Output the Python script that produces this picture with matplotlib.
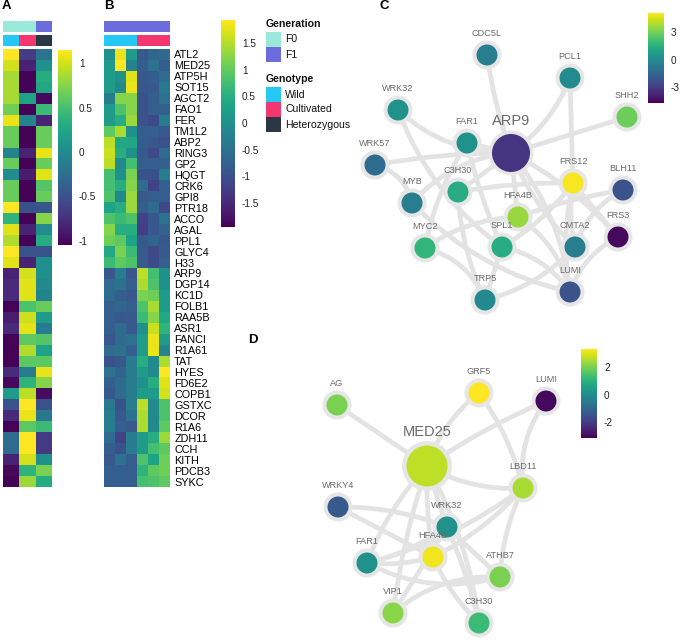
import matplotlib
matplotlib.use('Agg')
import matplotlib.pyplot as plt
import numpy as np
from matplotlib.patches import Circle, Rectangle, PathPatch
from matplotlib.path import Path
from matplotlib.colors import Normalize, to_rgb
from matplotlib.cm import ScalarMappable

plt.rcParams['font.family'] = ['Liberation Sans', 'DejaVu Sans']

# ---------------- data ----------------
genes_B = ['ATL2', 'MED25', 'ATP5H', 'SOT15', 'AGCT2', 'FAO1', 'FER', 'TM1L2', 'ABP2', 'RING3',
           'GP2', 'HQGT', 'CRK6', 'GPI8', 'PTR18', 'ACCO', 'AGAL', 'PPL1', 'GLYC4', 'H33',
           'ARP9', 'DGP14', 'KC1D', 'FOLB1', 'RAA5B', 'ASR1', 'FANCI', 'R1A61', 'TAT', 'HYES',
           'FD6E2', 'COPB1', 'GSTXC', 'DCOR', 'R1A6', 'ZDH11', 'CCH', 'KITH', 'PDCB3', 'SYKC']

generation_A = ['F0', 'F0', 'F1']
genotype_A = ['Wild', 'Cultivated', 'Heterozygous']
generation_B = ['F1', 'F1', 'F1', 'F1', 'F1', 'F1']
genotype_B = ['Wild', 'Wild', 'Wild', 'Cultivated', 'Cultivated', 'Cultivated']

heat_A = [
    [1.15, -0.65, -0.21], [1.00, -0.83, 0.05], [0.86, -1.03, 0.31], [0.86, -1.03, 0.27],
    [0.86, 0.23, -1.00], [0.67, -1.03, 0.45], [1.08, -0.06, -0.83], [0.64, -1.03, 0.64],
    [0.64, -1.03, 0.64], [-0.06, -0.83, 1.08], [0.64, -1.03, 0.64], [0.01, -0.87, 1.04],
    [0.64, -1.03, 0.56], [0.64, -1.03, 0.64], [1.15, -0.50, -0.46], [0.38, -1.03, 0.75],
    [1.04, -0.83, 0.01], [0.89, -1.03, 0.31], [1.15, -0.50, -0.50], [1.04, -0.83, 0.05],
    [-0.83, 1.00, 0.05], [-0.79, 1.04, 0.00], [-0.79, 1.04, -0.06], [-1.03, 0.53, 0.64],
    [-0.87, 0.98, 0.16], [-0.79, 1.06, -0.13], [-1.03, 0.60, 0.56], [-1.03, 0.89, 0.23],
    [-1.03, 0.60, 0.60], [-0.79, -0.13, 1.08], [-1.00, 0.38, 0.75], [0.16, 0.93, -0.98],
    [-0.50, 1.15, -0.50], [-0.79, 1.08, -0.17], [-1.03, 0.60, 0.45], [-0.28, 1.15, -0.68],
    [-0.28, 1.15, -0.68], [-0.83, 1.00, 0.05], [-1.00, 0.38, 0.71], [-1.03, 0.82, 0.31],
]

heat_B = [
    [0.00, 1.81, 0.18, -0.86, -0.67, -0.59],
    [0.18, 1.93, -0.20, -0.79, -0.48, -0.79],
    [0.18, 0.00, 1.74, -0.90, -0.79, -0.59],
    [0.18, -0.09, 1.81, -0.90, -0.86, -0.40],
    [-0.32, 1.23, 1.23, -0.98, -0.79, -0.48],
    [0.18, 0.84, 1.23, -0.98, -0.79, -0.79],
    [0.18, 0.46, 1.35, -0.98, -1.10, -0.32],
    [0.96, 1.43, 0.00, -0.79, -0.79, -0.90],
    [1.54, 0.38, 0.38, -0.79, -0.90, -0.98],
    [1.62, 0.46, 0.00, -0.86, -1.10, -0.59],
    [1.54, -0.09, 0.77, -0.79, -0.79, -0.79],
    [0.77, 0.00, 1.15, -0.98, -0.98, -0.32],
    [0.77, 0.46, 1.23, -0.59, -1.17, -0.79],
    [0.84, -0.09, 1.35, -0.86, -0.79, -0.79],
    [0.30, 0.46, 1.35, -0.79, -0.59, -1.10],
    [0.84, 0.69, 0.84, -1.17, -0.90, -0.48],
    [1.23, 0.46, 0.46, -1.25, -0.90, -0.71],
    [1.08, 0.96, 0.30, -0.86, -0.71, -0.90],
    [0.38, 1.15, 0.69, -0.86, -1.10, -0.86],
    [0.69, 0.96, 0.84, -0.86, -1.10, -0.79],
    [-0.90, -0.32, -0.90, 1.54, 0.77, 0.00],
    [-0.59, -0.48, -0.79, 1.46, 0.84, 0.00],
    [-0.59, -0.79, -0.90, 1.15, 1.08, 0.18],
    [-0.79, -0.67, -0.79, 0.84, 1.43, 0.18],
    [-0.79, -0.90, -0.86, 0.69, 1.23, 0.38],
    [-0.79, -0.59, -0.86, 0.00, 1.62, 0.57],
    [-0.90, -0.59, -0.48, 0.18, 1.81, 0.18],
    [-0.59, -0.48, -0.79, 0.18, 1.81, -0.20],
    [-0.98, -0.90, -0.32, 0.46, -0.09, 1.46],
    [-0.48, -0.71, -0.32, 0.18, -0.09, 1.93],
    [-0.79, -0.59, -0.32, 0.00, 0.46, 1.74],
    [-0.90, -0.59, -0.32, 0.18, 0.18, 1.66],
    [-0.40, -0.98, -0.32, 1.54, -0.09, 0.84],
    [-0.32, -0.90, -0.48, 1.46, -0.09, 0.84],
    [-0.32, -0.79, -0.86, 1.46, -0.09, 0.96],
    [-0.59, -1.17, -0.32, 0.18, 0.46, 1.35],
    [-0.79, -0.98, -0.32, 0.18, 0.77, 0.96],
    [-0.90, -0.48, -0.79, 0.84, 0.30, 1.08],
    [-0.79, -0.79, -0.79, 0.57, 0.96, 1.08],
    [-0.79, -0.79, -0.79, 0.77, 0.84, 0.96],
]

# network C
C_nodes = ['CDC5L', 'PCL1', 'WRK32', 'SHH2', 'FAR1', 'ARP9', 'WRK57', 'FRS12', 'BLH11',
           'C3H30', 'MYB', 'HFA4B', 'FRS3', 'MYC2', 'SPL1', 'CMTA2', 'LUMI', 'TRP5']
C_values = [-0.6, 0.0, 0.2, 2.9, 0.2, -3.2, -1.3, 5.0, -2.2,
            1.4, -0.6, 3.6, -4.5, 1.7, 1.4, -0.6, -2.2, -0.1]
C_hub = 'ARP9'
C_edges = [
    ('CDC5L', 'ARP9'), ('PCL1', 'ARP9'), ('PCL1', 'FRS12'), ('SHH2', 'ARP9'),
    ('WRK32', 'ARP9'), ('WRK32', 'SPL1'), ('WRK57', 'ARP9'), ('WRK57', 'MYB'),
    ('FAR1', 'ARP9'), ('FAR1', 'SPL1'), ('FAR1', 'MYC2'), ('MYB', 'ARP9'),
    ('MYB', 'LUMI'), ('C3H30', 'ARP9'), ('C3H30', 'FRS12'), ('C3H30', 'TRP5'),
    ('MYC2', 'HFA4B'), ('MYC2', 'TRP5'), ('SPL1', 'TRP5'), ('SPL1', 'LUMI'),
    ('SPL1', 'FRS12'), ('TRP5', 'CMTA2'), ('HFA4B', 'ARP9'), ('HFA4B', 'BLH11'),
    ('HFA4B', 'LUMI'), ('ARP9', 'LUMI'), ('ARP9', 'CMTA2'), ('ARP9', 'FRS3'),
    ('FRS12', 'CMTA2'), ('FRS12', 'FRS3'), ('BLH11', 'CMTA2'), ('FRS3', 'LUMI'),
    ('FRS12', 'LUMI'),
]

# network D
D_nodes = ['AG', 'GRF5', 'LUMI', 'MED25', 'LBD11', 'WRKY4', 'WRK32', 'HFA4B',
           'FAR1', 'ATHB7', 'VIP1', 'C3H30']
D_values = [2.0, 3.3, -3.0, 2.65, 2.45, -1.35, 0.1, 3.15, 0.1, 2.0, 2.15, 1.25]
D_hub = 'MED25'
D_edges = [
    ('AG', 'MED25'), ('MED25', 'LUMI'), ('MED25', 'GRF5'), ('GRF5', 'LBD11'),
    ('LUMI', 'LBD11'), ('MED25', 'LBD11'), ('MED25', 'WRK32'), ('MED25', 'HFA4B'),
    ('MED25', 'VIP1'), ('MED25', 'C3H30'), ('MED25', 'FAR1'), ('WRKY4', 'WRK32'),
    ('WRKY4', 'HFA4B'), ('FAR1', 'WRK32'), ('FAR1', 'HFA4B'), ('FAR1', 'ATHB7'),
    ('LBD11', 'HFA4B'), ('LBD11', 'FAR1'), ('LBD11', 'ATHB7'), ('WRK32', 'ATHB7'),
    ('WRK32', 'C3H30'), ('VIP1', 'WRK32'), ('VIP1', 'ATHB7'), ('HFA4B', 'C3H30'),
]

# ---------------- layout / style ----------------
W, H = 680, 642
C_layout = {'CDC5L': (487, 55), 'PCL1': (570, 78), 'WRK32': (398, 110), 'SHH2': (627, 117),
            'FAR1': (467, 143), 'ARP9': (511, 153), 'WRK57': (375, 165), 'FRS12': (573, 183),
            'BLH11': (623, 190), 'C3H30': (458, 192), 'MYB': (412, 203), 'HFA4B': (518, 217),
            'FRS3': (618, 237), 'MYC2': (425, 248), 'SPL1': (502, 247), 'CMTA2': (575, 247),
            'LUMI': (570, 292), 'TRP5': (485, 300)}
C_curv = [0.05, -0.15, 0.0, 0.0, 0.2, 0.15, -0.05, -0.3, 0.0, 0.05, 0.1, -0.2, 0.15, 0.0,
          -0.05, 0.1, -0.15, -0.25, 0.0, -0.2, 0.1, 0.15, 0.0, -0.05, -0.2, -0.15, 0.1,
          -0.1, 0.1, 0.0, 0.2, 0.2, 0.1]
D_layout = {'AG': (337, 405), 'GRF5': (479, 393), 'LUMI': (546, 401), 'MED25': (427, 466),
            'LBD11': (523, 488), 'WRKY4': (338, 507), 'WRK32': (447, 527), 'HFA4B': (433, 557),
            'FAR1': (367, 563), 'ATHB7': (500, 577), 'VIP1': (393, 613), 'C3H30': (479, 623)}
D_curv = [0.0, -0.05, -0.15, -0.1, 0.2, 0.15, 0.0, 0.05, 0.05, -0.1, 0.1, -0.1, 0.0, 0.1,
          0.1, 0.2, -0.1, -0.1, 0.1, 0.0, -0.05, 0.0, -0.2, 0.1]

gen_colors = {'F0': '#9BE9DA', 'F1': '#6C6BDC'}
geno_colors = {'Wild': '#25C7F4', 'Cultivated': '#F5376F', 'Heterozygous': '#2B3742'}
EDGE = '#e3e3e3'
HALO = '#e6e6e6'
LABEL = '#6a6a6a'

fig = plt.figure(figsize=(W / 100, H / 100), dpi=100)


def px_axes(x0, y0, x1, y1):
    return fig.add_axes([x0 / W, 1 - y1 / H, (x1 - x0) / W, (y1 - y0) / H])


def clean(ax):
    ax.set_xticks([])
    ax.set_yticks([])
    for s in ax.spines.values():
        s.set_visible(False)


def annot_bar(ax, keys, cmap_dict):
    rgb = np.array([[to_rgb(cmap_dict[k]) for k in keys]])
    ax.imshow(rgb, aspect='auto', interpolation='nearest')
    clean(ax)


def colorbar(box, vmin, vmax, ticks, labels):
    cax = px_axes(*box)
    sm = ScalarMappable(norm=Normalize(vmin, vmax), cmap='viridis')
    cb = fig.colorbar(sm, cax=cax)
    cb.outline.set_visible(False)
    cb.set_ticks(ticks)
    cb.set_ticklabels(labels)
    cax.tick_params(length=0, pad=5, labelsize=7.2, labelcolor='#222222')
    return cb


# ---------------- panel A ----------------
axA = px_axes(3, 49, 52, 487)
axA.imshow(np.array(heat_A), aspect='auto', cmap='viridis', vmin=-1.05, vmax=1.15,
           interpolation='nearest')
clean(axA)
annot_bar(px_axes(3, 21, 52, 32), generation_A, gen_colors)
annot_bar(px_axes(3, 35, 52, 46), genotype_A, geno_colors)
colorbar((58, 50, 72, 245), -1.05, 1.15, [-1, -0.5, 0, 0.5, 1], ['-1', '-0.5', '0', '0.5', '1'])

# ---------------- panel B ----------------
axB = px_axes(104, 49, 170, 487)
axB.imshow(np.array(heat_B), aspect='auto', cmap='viridis', vmin=-1.95, vmax=1.93,
           interpolation='nearest')
clean(axB)
axB.yaxis.tick_right()
axB.set_yticks(range(len(genes_B)))
axB.set_yticklabels(genes_B, fontsize=7.8)
axB.tick_params(axis='y', length=0, pad=3)
annot_bar(px_axes(104, 21, 170, 32), generation_B, gen_colors)
annot_bar(px_axes(104, 35, 170, 46), genotype_B, geno_colors)
colorbar((221, 20, 235, 227), -1.95, 1.93, [-1.5, -1, -0.5, 0, 0.5, 1, 1.5],
         ['-1.5', '-1', '-0.5', '0', '0.5', '1', '1.5'])

# ---------------- colorbars for networks ----------------
normC = Normalize(-4.7, 5.1)
normD = Normalize(-3.15, 3.3)
colorbar((648, 13, 664, 103), -4.7, 5.1, [-3, 0, 3], ['-3', '0', '3'])
colorbar((581, 349, 597, 438), -3.15, 3.3, [-2, 0, 2], ['-2', '0', '2'])

# ---------------- overlay (legend, labels, networks) ----------------
ov = fig.add_axes([0, 0, 1, 1])
ov.set_xlim(0, W)
ov.set_ylim(H, 0)
ov.axis('off')
ov.patch.set_alpha(0)


def legend_block(title, items, colors, y_title):
    ov.text(266, y_title, title, fontsize=7.6, fontweight='bold', va='center', ha='left',
            color='#111111')
    for i, it in enumerate(items):
        y0 = y_title + 8 + i * 15
        ov.add_patch(Rectangle((266, y0), 15, 15, color=colors[it], lw=0))
        ov.text(285, y0 + 7.5, it, fontsize=7.6, va='center', ha='left', color='#111111')


legend_block('Generation', ['F0', 'F1'], gen_colors, 24)
legend_block('Genotype', ['Wild', 'Cultivated', 'Heterozygous'], geno_colors, 79)

# panel letters
for letter, (x, y) in zip('ABCD', [(2, 6), (104, 6), (380, 6), (248, 340)]):
    ov.text(x, y, letter, fontsize=9.5, fontweight='bold', va='center', ha='left')


def curved(p0, p1, rad):
    p0 = np.array(p0, float)
    p1 = np.array(p1, float)
    d = p1 - p0
    perp = np.array([-d[1], d[0]])
    ctrl = (p0 + p1) / 2 + rad * perp
    return Path([p0, ctrl, p1], [Path.MOVETO, Path.CURVE3, Path.CURVE3])


def network(nodes, values, hub, edges, layout, curv, norm, hub_r, hub_halo):
    cmap = plt.get_cmap('viridis')
    for (a, b), r in zip(edges, curv):
        ov.add_patch(PathPatch(curved(layout[a], layout[b], r), fc='none', ec=EDGE,
                               lw=3.4, capstyle='round', zorder=1))
    for n, v in zip(nodes, values):
        x, y = layout[n]
        big = (n == hub)
        rr, hh = (hub_r, hub_halo) if big else (10.5, 14.5)
        ov.add_patch(Circle((x, y), hh, color=HALO, zorder=2, lw=0))
        ov.add_patch(Circle((x, y), rr, color=cmap(norm(v)), zorder=3, lw=0))
        ov.text(x, y - hh - 2.5, n, fontsize=10.5 if big else 6.6, color=LABEL,
                ha='center', va='bottom', zorder=4)


network(C_nodes, C_values, C_hub, C_edges, C_layout, C_curv, normC, 19, 22.5)
network(D_nodes, D_values, D_hub, D_edges, D_layout, D_curv, normD, 20.5, 25)

fig.savefig('out.png', dpi=100)
